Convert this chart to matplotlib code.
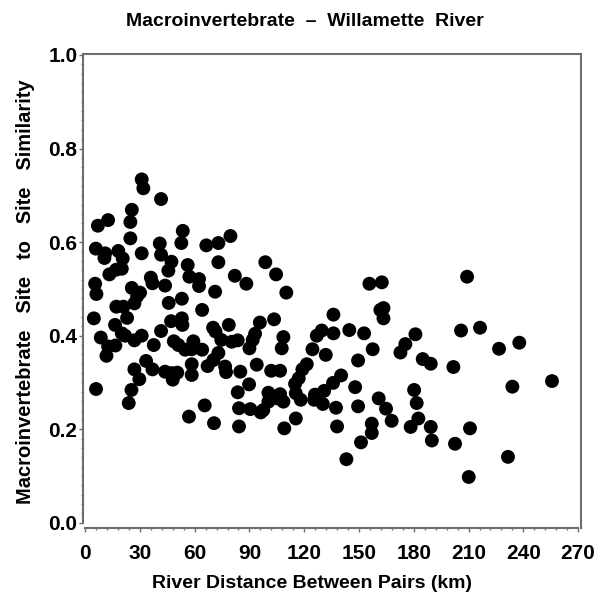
import matplotlib
matplotlib.use("Agg")
import matplotlib.pyplot as plt
from matplotlib.ticker import MultipleLocator

# river distance between site pairs (km) and similarity
distance = [
    31.0, 31.9, 41.6, 25.6, 12.6, 7.0, 24.8, 53.5, 24.8, 5.9,
    11.0, 18.2, 20.6, 10.6, 40.9, 41.6, 52.7, 66.4, 31.0, 47.3,
    56.2, 45.6, 13.3, 17.0, 20.1, 36.0, 36.9, 57.1, 62.4, 62.4,
    43.8, 5.5, 6.2, 25.6, 30.1, 28.5, 27.0, 45.8, 53.0, 64.1,
    17.1, 21.0, 4.8, 23.0, 47.1, 53.0, 71.2, 16.4, 53.3, 70.1,
    20.1, 21.9, 31.0, 41.6, 8.6, 27.0, 37.6, 48.6, 51.1, 54.8,
    59.3, 58.4, 64.1, 12.6, 16.6, 11.7, 33.4, 70.3, 58.4, 67.1,
    36.9, 27.0, 43.8, 47.5, 50.5, 48.0, 58.4, 29.7, 6.0, 25.4,
    23.9, 65.5, 56.9, 70.6, 79.6, 73.0, 73.0, 98.7, 104.6, 82.0,
    88.3, 110.2, 71.4, 78.7, 95.7, 103.5, 136.0, 136.0, 129.6, 126.9,
    74.6, 80.3, 83.6, 93.1, 91.8, 108.6, 90.0, 107.7, 124.5, 131.8,
    73.0, 76.7, 77.2, 85.0, 94.0, 101.9, 106.8, 121.4, 119.0, 117.0,
    115.0, 140.2, 89.8, 135.8, 83.6, 100.4, 100.4, 106.8, 108.6, 105.3,
    115.4, 118.1, 125.9, 125.4, 130.9, 130.2, 137.4, 84.3, 90.5, 97.6,
    96.2, 115.4, 84.3, 109.1, 138.0, 155.7, 162.5, 161.7, 163.4, 163.4,
    144.7, 152.8, 205.9, 180.9, 175.4, 172.7, 157.5, 149.5, 184.9, 189.3,
    201.7, 147.9, 180.2, 160.8, 181.6, 149.5, 164.8, 167.9, 182.5, 178.3,
    189.3, 157.0, 157.0, 151.1, 189.9, 202.6, 143.1, 209.2, 216.3, 226.7,
    237.8, 234.0, 255.7, 210.8, 231.6, 210.1,
]
similarity = [
    0.734, 0.715, 0.692, 0.669, 0.647, 0.635, 0.643, 0.624, 0.608, 0.586,
    0.576, 0.581, 0.565, 0.566, 0.597, 0.573, 0.598, 0.593, 0.576, 0.558,
    0.551, 0.539, 0.531, 0.541, 0.543, 0.524, 0.512, 0.526, 0.521, 0.506,
    0.507, 0.511, 0.489, 0.502, 0.492, 0.484, 0.469, 0.470, 0.479, 0.455,
    0.462, 0.462, 0.437, 0.438, 0.431, 0.437, 0.494, 0.423, 0.423, 0.417,
    0.405, 0.400, 0.400, 0.410, 0.396, 0.390, 0.380, 0.388, 0.380, 0.370,
    0.388, 0.371, 0.370, 0.377, 0.379, 0.357, 0.346, 0.348, 0.339, 0.335,
    0.328, 0.328, 0.323, 0.320, 0.321, 0.306, 0.316, 0.307, 0.286, 0.284,
    0.256, 0.251, 0.227, 0.213, 0.613, 0.598, 0.557, 0.557, 0.531, 0.528,
    0.511, 0.492, 0.409, 0.423, 0.428, 0.435, 0.445, 0.405, 0.411, 0.400,
    0.391, 0.387, 0.390, 0.404, 0.391, 0.397, 0.373, 0.373, 0.371, 0.359,
    0.363, 0.334, 0.322, 0.323, 0.338, 0.325, 0.325, 0.339, 0.328, 0.309,
    0.297, 0.315, 0.296, 0.299, 0.279, 0.278, 0.259, 0.275, 0.259, 0.266,
    0.277, 0.263, 0.274, 0.263, 0.282, 0.254, 0.246, 0.245, 0.243, 0.241,
    0.236, 0.223, 0.206, 0.202, 0.206, 0.511, 0.514, 0.455, 0.459, 0.437,
    0.412, 0.405, 0.411, 0.403, 0.382, 0.364, 0.371, 0.347, 0.350, 0.340,
    0.333, 0.290, 0.284, 0.266, 0.256, 0.249, 0.244, 0.218, 0.223, 0.205,
    0.205, 0.212, 0.192, 0.172, 0.176, 0.169, 0.136, 0.526, 0.417, 0.372,
    0.385, 0.291, 0.303, 0.202, 0.141, 0.098,
]

x_ticks = [0, 30, 60, 90, 120, 150, 180, 210, 240, 270]
y_ticks = [0.0, 0.2, 0.4, 0.6, 0.8, 1.0]

plt.rcParams['font.family'] = ['Liberation Sans', 'DejaVu Sans']
plt.rcParams['font.weight'] = 'bold'

fig = plt.figure(figsize=(6.10, 6.08), dpi=100)
ax = fig.add_axes([0.1356, 0.1316, 0.8169, 0.7796])

ax.scatter(distance, similarity, s=100, c='black', edgecolors='none', zorder=3)

ax.set_xlim(-1.3, 271.6)
ax.set_ylim(-0.011, 1.002)
ax.set_xticks(x_ticks)
ax.set_yticks(y_ticks)
ax.set_yticklabels(['%.1f' % v for v in y_ticks])
ax.xaxis.set_minor_locator(MultipleLocator(6))
ax.yaxis.set_minor_locator(MultipleLocator(0.02))

for sp in ax.spines.values():
    sp.set_color('#6e6e6e')
    sp.set_linewidth(1.5)
ax.spines['left'].set_bounds(0, 1.0)
ax.spines['bottom'].set_bounds(0, 270)

ax.tick_params(which='major', length=2.8, width=1, color='#6e6e6e', labelsize=15)
ax.tick_params(which='minor', length=1.6, width=1, color='#6e6e6e')
ax.tick_params(axis='y', which='major', pad=1)
ax.tick_params(axis='x', which='major', pad=9)

# labels placed in figure coordinates, like the SAS output
fig.text(0.512, 0.040, 'River Distance Between Pairs (km)', fontsize=14,
         ha='center', va='center')
fig.text(0.041, 0.52, 'Macroinvertebrate   Site   to   Site   Similarity', fontsize=14.5,
         ha='center', va='center', rotation=90)
fig.text(0.5, 0.965, 'Macroinvertebrate  \u2013  Willamette  River', fontsize=14,
         ha='center', va='center')

fig.savefig('out.png', dpi=100)
